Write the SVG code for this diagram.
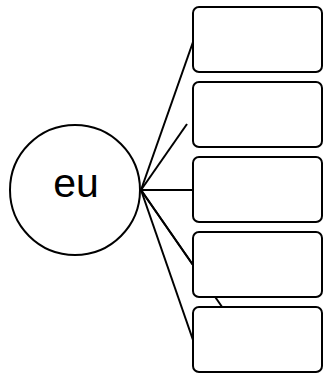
<svg xmlns="http://www.w3.org/2000/svg" width="324" height="374" viewBox="0 0 324 374">
<style>
.n{fill:#fff;stroke:#000;stroke-width:2}
.e{stroke:#000;stroke-width:2;fill:none}
.t{font-family:"Liberation Sans",Arial,sans-serif;font-size:41px;fill:#000}
</style>
<rect width="324" height="374" fill="#fff"/>
<g id="connectors">
<line class="e" x1="141" y1="190" x2="193" y2="42"/>
<line class="e" x1="141" y1="190" x2="187" y2="124"/>
<line class="e" x1="141" y1="190" x2="193" y2="190"/>
<line class="e" x1="141" y1="190" x2="193" y2="265"/>
<line class="e" x1="141" y1="190" x2="193" y2="340"/>
<line class="e" x1="141" y1="190" x2="245" y2="340"/>
</g>
<g id="eu">
<circle class="n" cx="75" cy="190" r="65"/>
<text class="t" x="76" y="197" text-anchor="middle">eu</text>
</g>
<g id="box1"><rect class="n" x="193" y="7" width="129" height="65" rx="6"/></g>
<g id="box2"><rect class="n" x="193" y="82" width="129" height="65" rx="6"/></g>
<g id="box3"><rect class="n" x="193" y="157" width="129" height="65" rx="6"/></g>
<g id="box4"><rect class="n" x="193" y="232" width="129" height="65" rx="6"/></g>
<g id="box5"><rect class="n" x="193" y="307" width="129" height="65" rx="6"/></g>
</svg>
